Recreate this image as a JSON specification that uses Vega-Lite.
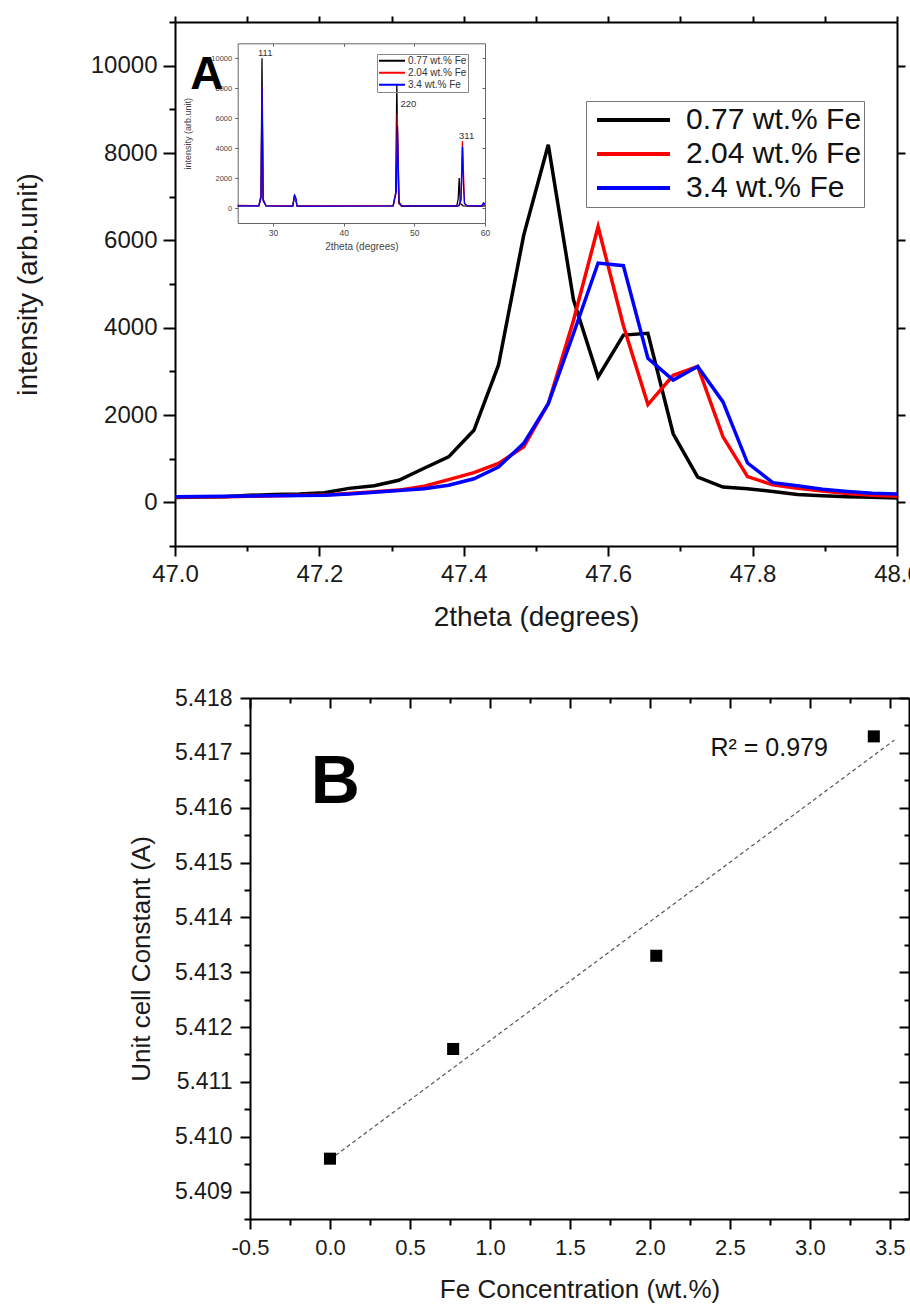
{
  "$schema": "https://vega.github.io/schema/vega-lite/v6.json",
  "autosize": "none",
  "padding": {"left": 175, "top": 22, "right": 735, "bottom": 1283},
  "config": {
    "font": "Liberation Sans",
    "view": {"stroke": null},
    "axis": {"grid": false, "labelFlush": false, "labelOverlap": false, "domainColor": "#000", "tickColor": "#000", "labelColor": "#1a1a1a", "titleColor": "#1a1a1a", "titleFontWeight": "normal", "labelFont": "Liberation Sans", "titleFont": "Liberation Sans"},
    "legend": {"labelFont": "Liberation Sans", "labelLimit": 400},
    "text": {"font": "Liberation Sans"}
  },
  "datasets": {
    "main": [
      {"t":47.000,"I":110,"s":"0.77 wt.% Fe"},{"t":47.034,"I":120,"s":"0.77 wt.% Fe"},{"t":47.069,"I":130,"s":"0.77 wt.% Fe"},{"t":47.103,"I":160,"s":"0.77 wt.% Fe"},{"t":47.138,"I":180,"s":"0.77 wt.% Fe"},{"t":47.172,"I":190,"s":"0.77 wt.% Fe"},{"t":47.207,"I":220,"s":"0.77 wt.% Fe"},{"t":47.241,"I":320,"s":"0.77 wt.% Fe"},{"t":47.276,"I":380,"s":"0.77 wt.% Fe"},{"t":47.310,"I":505,"s":"0.77 wt.% Fe"},{"t":47.345,"I":780,"s":"0.77 wt.% Fe"},{"t":47.379,"I":1040,"s":"0.77 wt.% Fe"},{"t":47.414,"I":1650,"s":"0.77 wt.% Fe"},{"t":47.448,"I":3140,"s":"0.77 wt.% Fe"},{"t":47.483,"I":6120,"s":"0.77 wt.% Fe"},{"t":47.517,"I":8190,"s":"0.77 wt.% Fe"},{"t":47.552,"I":4630,"s":"0.77 wt.% Fe"},{"t":47.586,"I":2870,"s":"0.77 wt.% Fe"},{"t":47.621,"I":3830,"s":"0.77 wt.% Fe"},{"t":47.655,"I":3870,"s":"0.77 wt.% Fe"},{"t":47.690,"I":1570,"s":"0.77 wt.% Fe"},{"t":47.724,"I":580,"s":"0.77 wt.% Fe"},{"t":47.759,"I":350,"s":"0.77 wt.% Fe"},{"t":47.793,"I":310,"s":"0.77 wt.% Fe"},{"t":47.828,"I":250,"s":"0.77 wt.% Fe"},{"t":47.862,"I":180,"s":"0.77 wt.% Fe"},{"t":47.897,"I":150,"s":"0.77 wt.% Fe"},{"t":47.931,"I":130,"s":"0.77 wt.% Fe"},{"t":47.966,"I":115,"s":"0.77 wt.% Fe"},{"t":48.000,"I":100,"s":"0.77 wt.% Fe"},
      {"t":47.000,"I":120,"s":"2.04 wt.% Fe"},{"t":47.034,"I":125,"s":"2.04 wt.% Fe"},{"t":47.069,"I":130,"s":"2.04 wt.% Fe"},{"t":47.103,"I":140,"s":"2.04 wt.% Fe"},{"t":47.138,"I":150,"s":"2.04 wt.% Fe"},{"t":47.172,"I":160,"s":"2.04 wt.% Fe"},{"t":47.207,"I":170,"s":"2.04 wt.% Fe"},{"t":47.241,"I":200,"s":"2.04 wt.% Fe"},{"t":47.276,"I":240,"s":"2.04 wt.% Fe"},{"t":47.310,"I":280,"s":"2.04 wt.% Fe"},{"t":47.345,"I":370,"s":"2.04 wt.% Fe"},{"t":47.379,"I":520,"s":"2.04 wt.% Fe"},{"t":47.414,"I":680,"s":"2.04 wt.% Fe"},{"t":47.448,"I":890,"s":"2.04 wt.% Fe"},{"t":47.483,"I":1270,"s":"2.04 wt.% Fe"},{"t":47.517,"I":2260,"s":"2.04 wt.% Fe"},{"t":47.552,"I":4170,"s":"2.04 wt.% Fe"},{"t":47.586,"I":6310,"s":"2.04 wt.% Fe"},{"t":47.621,"I":4050,"s":"2.04 wt.% Fe"},{"t":47.655,"I":2240,"s":"2.04 wt.% Fe"},{"t":47.690,"I":2910,"s":"2.04 wt.% Fe"},{"t":47.724,"I":3110,"s":"2.04 wt.% Fe"},{"t":47.759,"I":1500,"s":"2.04 wt.% Fe"},{"t":47.793,"I":590,"s":"2.04 wt.% Fe"},{"t":47.828,"I":400,"s":"2.04 wt.% Fe"},{"t":47.862,"I":320,"s":"2.04 wt.% Fe"},{"t":47.897,"I":260,"s":"2.04 wt.% Fe"},{"t":47.931,"I":200,"s":"2.04 wt.% Fe"},{"t":47.966,"I":160,"s":"2.04 wt.% Fe"},{"t":48.000,"I":140,"s":"2.04 wt.% Fe"},
      {"t":47.000,"I":130,"s":"3.4 wt.% Fe"},{"t":47.034,"I":135,"s":"3.4 wt.% Fe"},{"t":47.069,"I":140,"s":"3.4 wt.% Fe"},{"t":47.103,"I":145,"s":"3.4 wt.% Fe"},{"t":47.138,"I":150,"s":"3.4 wt.% Fe"},{"t":47.172,"I":155,"s":"3.4 wt.% Fe"},{"t":47.207,"I":165,"s":"3.4 wt.% Fe"},{"t":47.241,"I":190,"s":"3.4 wt.% Fe"},{"t":47.276,"I":230,"s":"3.4 wt.% Fe"},{"t":47.310,"I":270,"s":"3.4 wt.% Fe"},{"t":47.345,"I":310,"s":"3.4 wt.% Fe"},{"t":47.379,"I":390,"s":"3.4 wt.% Fe"},{"t":47.414,"I":540,"s":"3.4 wt.% Fe"},{"t":47.448,"I":810,"s":"3.4 wt.% Fe"},{"t":47.483,"I":1350,"s":"3.4 wt.% Fe"},{"t":47.517,"I":2260,"s":"3.4 wt.% Fe"},{"t":47.552,"I":3870,"s":"3.4 wt.% Fe"},{"t":47.586,"I":5480,"s":"3.4 wt.% Fe"},{"t":47.621,"I":5420,"s":"3.4 wt.% Fe"},{"t":47.655,"I":3300,"s":"3.4 wt.% Fe"},{"t":47.690,"I":2800,"s":"3.4 wt.% Fe"},{"t":47.724,"I":3110,"s":"3.4 wt.% Fe"},{"t":47.759,"I":2300,"s":"3.4 wt.% Fe"},{"t":47.793,"I":900,"s":"3.4 wt.% Fe"},{"t":47.828,"I":450,"s":"3.4 wt.% Fe"},{"t":47.862,"I":380,"s":"3.4 wt.% Fe"},{"t":47.897,"I":300,"s":"3.4 wt.% Fe"},{"t":47.931,"I":250,"s":"3.4 wt.% Fe"},{"t":47.966,"I":210,"s":"3.4 wt.% Fe"},{"t":48.000,"I":190,"s":"3.4 wt.% Fe"}
    ],
    "inset": [
      {"t":25,"I":150,"s":"0.77 wt.% Fe"},{"t":28.0,"I":150,"s":"0.77 wt.% Fe"},{"t":28.3,"I":900,"s":"0.77 wt.% Fe"},{"t":28.44,"I":10000,"s":"0.77 wt.% Fe"},{"t":28.6,"I":600,"s":"0.77 wt.% Fe"},{"t":29.0,"I":150,"s":"0.77 wt.% Fe"},{"t":32.8,"I":130,"s":"0.77 wt.% Fe"},{"t":33.0,"I":750,"s":"0.77 wt.% Fe"},{"t":33.2,"I":600,"s":"0.77 wt.% Fe"},{"t":33.4,"I":130,"s":"0.77 wt.% Fe"},{"t":47.0,"I":150,"s":"0.77 wt.% Fe"},{"t":47.35,"I":1000,"s":"0.77 wt.% Fe"},{"t":47.52,"I":8200,"s":"0.77 wt.% Fe"},{"t":47.65,"I":3800,"s":"0.77 wt.% Fe"},{"t":47.8,"I":300,"s":"0.77 wt.% Fe"},{"t":48.2,"I":120,"s":"0.77 wt.% Fe"},{"t":56.0,"I":120,"s":"0.77 wt.% Fe"},{"t":56.2,"I":600,"s":"0.77 wt.% Fe"},{"t":56.35,"I":2000,"s":"0.77 wt.% Fe"},{"t":56.5,"I":300,"s":"0.77 wt.% Fe"},{"t":56.9,"I":150,"s":"0.77 wt.% Fe"},{"t":59.5,"I":120,"s":"0.77 wt.% Fe"},{"t":59.8,"I":150,"s":"0.77 wt.% Fe"},{"t":60,"I":150,"s":"0.77 wt.% Fe"},
      {"t":25,"I":180,"s":"2.04 wt.% Fe"},{"t":28.0,"I":160,"s":"2.04 wt.% Fe"},{"t":28.3,"I":700,"s":"2.04 wt.% Fe"},{"t":28.44,"I":8100,"s":"2.04 wt.% Fe"},{"t":28.6,"I":500,"s":"2.04 wt.% Fe"},{"t":29.0,"I":160,"s":"2.04 wt.% Fe"},{"t":32.8,"I":140,"s":"2.04 wt.% Fe"},{"t":33.05,"I":900,"s":"2.04 wt.% Fe"},{"t":33.25,"I":500,"s":"2.04 wt.% Fe"},{"t":33.4,"I":140,"s":"2.04 wt.% Fe"},{"t":47.0,"I":160,"s":"2.04 wt.% Fe"},{"t":47.45,"I":1200,"s":"2.04 wt.% Fe"},{"t":47.59,"I":6300,"s":"2.04 wt.% Fe"},{"t":47.7,"I":3000,"s":"2.04 wt.% Fe"},{"t":47.85,"I":300,"s":"2.04 wt.% Fe"},{"t":48.2,"I":140,"s":"2.04 wt.% Fe"},{"t":56.3,"I":150,"s":"2.04 wt.% Fe"},{"t":56.6,"I":500,"s":"2.04 wt.% Fe"},{"t":56.8,"I":4470,"s":"2.04 wt.% Fe"},{"t":56.95,"I":2400,"s":"2.04 wt.% Fe"},{"t":57.1,"I":300,"s":"2.04 wt.% Fe"},{"t":57.5,"I":150,"s":"2.04 wt.% Fe"},{"t":59.5,"I":150,"s":"2.04 wt.% Fe"},{"t":59.8,"I":250,"s":"2.04 wt.% Fe"},{"t":60,"I":200,"s":"2.04 wt.% Fe"},
      {"t":25,"I":140,"s":"3.4 wt.% Fe"},{"t":28.0,"I":140,"s":"3.4 wt.% Fe"},{"t":28.3,"I":700,"s":"3.4 wt.% Fe"},{"t":28.44,"I":8050,"s":"3.4 wt.% Fe"},{"t":28.6,"I":500,"s":"3.4 wt.% Fe"},{"t":29.0,"I":140,"s":"3.4 wt.% Fe"},{"t":32.8,"I":130,"s":"3.4 wt.% Fe"},{"t":33.05,"I":850,"s":"3.4 wt.% Fe"},{"t":33.25,"I":650,"s":"3.4 wt.% Fe"},{"t":33.4,"I":130,"s":"3.4 wt.% Fe"},{"t":47.0,"I":140,"s":"3.4 wt.% Fe"},{"t":47.45,"I":1100,"s":"3.4 wt.% Fe"},{"t":47.6,"I":5500,"s":"3.4 wt.% Fe"},{"t":47.72,"I":3100,"s":"3.4 wt.% Fe"},{"t":47.85,"I":400,"s":"3.4 wt.% Fe"},{"t":48.2,"I":140,"s":"3.4 wt.% Fe"},{"t":56.3,"I":140,"s":"3.4 wt.% Fe"},{"t":56.6,"I":600,"s":"3.4 wt.% Fe"},{"t":56.82,"I":4100,"s":"3.4 wt.% Fe"},{"t":56.95,"I":1500,"s":"3.4 wt.% Fe"},{"t":57.1,"I":300,"s":"3.4 wt.% Fe"},{"t":57.5,"I":140,"s":"3.4 wt.% Fe"},{"t":59.5,"I":140,"s":"3.4 wt.% Fe"},{"t":59.8,"I":350,"s":"3.4 wt.% Fe"},{"t":60,"I":250,"s":"3.4 wt.% Fe"}
    ],
    "insetLabels": [
      {"t":28.9,"I":10336,"label":"111"},
      {"t":49.17,"I":6933,"label":"220"},
      {"t":57.4,"I":4805,"label":"311"}
    ],
    "annA": [{"t":47.044,"I":9794,"label":"A"}],
    "lat": [
      {"c":0,"a":5.4096},
      {"c":0.77,"a":5.4116},
      {"c":2.04,"a":5.4133},
      {"c":3.4,"a":5.4173}
    ],
    "annB": [{"c":0.033,"a":5.41645,"label":"B"}],
    "annR": [{"c":2.746,"a":5.41709,"label":"R² = 0.979"}]
  },
  "bounds": "flush",
  "spacing": 152,
  "vconcat": [
    {
      "width": 722,
      "height": 524,
      "layer": [
        {
          "data": {"name": "main"},
          "layer": [
            {
              "mark": {"type": "line", "strokeWidth": 3.5},
              "encoding": {
                "x": {"field": "t", "type": "quantitative", "scale": {"domain": [47, 48], "nice": false, "zero": false},
                  "axis": {"orient": "bottom", "values": [47, 47.2, 47.4, 47.6, 47.8, 48], "format": ".1f", "title": "2theta (degrees)", "tickSize": 10, "tickWidth": 2, "domainWidth": 2, "labelFontSize": 24, "labelPadding": 6, "titleFontSize": 28, "titlePadding": 17}},
                "y": {"field": "I", "type": "quantitative", "scale": {"domain": [-1000, 11000], "nice": false, "zero": false},
                  "axis": {"orient": "left", "values": [0, 2000, 4000, 6000, 8000, 10000], "format": "d", "title": "intensity (arb.unit)", "tickSize": 12, "tickWidth": 2, "domainWidth": 2, "labelFontSize": 24, "labelPadding": 6, "titleFontSize": 28, "titlePadding": 48}},
                "color": {"field": "s", "type": "nominal",
                  "scale": {"domain": ["0.77 wt.% Fe", "2.04 wt.% Fe", "3.4 wt.% Fe"], "range": ["#000000", "#ff0000", "#0000ff"]},
                  "legend": {"orient": "none", "legendX": 411, "legendY": 79, "title": null, "strokeColor": "#777", "padding": 2, "symbolType": "stroke", "symbolSize": 5329, "symbolStrokeWidth": 4, "symbolOffset": 7, "clipHeight": 34, "rowPadding": 0, "labelFontSize": 30, "labelOffset": 14, "labelColor": "#111"}}
              }
            },
            {
              "mark": {"type": "point", "opacity": 0},
              "encoding": {
                "x": {"field": "t", "type": "quantitative", "scale": {"domain": [47, 48], "nice": false, "zero": false},
                  "axis": {"orient": "bottom", "values": [47.1, 47.3, 47.5, 47.7, 47.9], "labels": false, "title": null, "domain": false, "tickSize": 5, "tickWidth": 2}},
                "y": {"field": "I", "type": "quantitative", "scale": {"domain": [-1000, 11000], "nice": false, "zero": false},
                  "axis": {"orient": "left", "values": [-1000, 1000, 3000, 5000, 7000, 9000, 11000], "labels": false, "title": null, "domain": false, "tickSize": 6, "tickWidth": 2}}
              }
            },
            {
              "mark": {"type": "point", "opacity": 0},
              "encoding": {
                "x": {"field": "t", "type": "quantitative", "scale": {"domain": [47, 48], "nice": false, "zero": false},
                  "axis": {"orient": "top", "values": [47, 47.1, 47.2, 47.3, 47.4, 47.5, 47.6, 47.7, 47.8, 47.9, 48], "labels": false, "title": null, "domainWidth": 2, "tickSize": 6, "tickWidth": 2}},
                "y": {"field": "I", "type": "quantitative", "scale": {"domain": [-1000, 11000], "nice": false, "zero": false},
                  "axis": {"orient": "right", "values": [0, 2000, 4000, 6000, 8000, 10000], "labels": false, "title": null, "domainWidth": 2, "tickSize": 8, "tickWidth": 2}}
              }
            },
            {
              "data": {"name": "annA"},
              "mark": {"type": "text", "fontSize": 46, "fontWeight": "bold", "color": "#000"},
              "encoding": {
                "x": {"field": "t", "type": "quantitative", "axis": null},
                "y": {"field": "I", "type": "quantitative", "axis": null},
                "text": {"field": "label"}
              }
            }
          ],
          "resolve": {"axis": {"x": "independent", "y": "independent"}}
        },
        {
          "data": {"name": "inset"},
          "layer": [
            {
              "mark": {"type": "line", "strokeWidth": 1.3},
              "encoding": {
                "x": {"field": "t", "type": "quantitative", "scale": {"domain": [25, 60], "range": [62.7, 310], "nice": false, "zero": false},
                  "axis": {"orient": "bottom", "offset": -323, "values": [30, 40, 50, 60], "title": "2theta (degrees)", "tickSize": 3, "tickWidth": 1, "domainWidth": 1, "domainColor": "#666", "tickColor": "#666", "labelFontSize": 8.5, "labelPadding": 2, "labelColor": "#444", "titleFontSize": 10, "titlePadding": 5, "titleColor": "#444"}},
                "y": {"field": "I", "type": "quantitative", "scale": {"domain": [-1000, 11000], "range": [201, 21.3], "nice": false, "zero": false},
                  "axis": {"orient": "left", "offset": -62.7, "values": [0, 2000, 4000, 6000, 8000, 10000], "format": "d", "title": "intensity (arb.unit)", "tickSize": 3, "tickWidth": 1, "domainWidth": 1, "domainColor": "#666", "tickColor": "#666", "labelFontSize": 7.5, "labelPadding": 3, "labelColor": "#444", "titleFontSize": 9, "titlePadding": 18, "titleColor": "#444"}},
                "color": {"field": "s", "type": "nominal",
                  "scale": {"domain": ["0.77 wt.% Fe", "2.04 wt.% Fe", "3.4 wt.% Fe"], "range": ["#000000", "#ff0000", "#0000ff"]},
                  "legend": {"orient": "none", "legendX": 202, "legendY": 32, "title": null, "strokeColor": "#888", "padding": 1, "symbolType": "stroke", "symbolSize": 676, "symbolStrokeWidth": 2, "clipHeight": 11.7, "rowPadding": 0, "labelFontSize": 10, "labelOffset": 2, "labelColor": "#333"}}
              }
            },
            {
              "mark": {"type": "point", "opacity": 0},
              "encoding": {
                "x": {"field": "t", "type": "quantitative", "scale": {"domain": [25, 60], "range": [62.7, 310], "nice": false, "zero": false},
                  "axis": {"orient": "top", "offset": -21.3, "values": [30, 40, 50, 60], "labels": false, "title": null, "tickSize": -3, "tickWidth": 1, "domainWidth": 1, "domainColor": "#666", "tickColor": "#666"}},
                "y": {"field": "I", "type": "quantitative", "scale": {"domain": [-1000, 11000], "range": [201, 21.3], "nice": false, "zero": false},
                  "axis": {"orient": "right", "offset": -412, "values": [0, 2000, 4000, 6000, 8000, 10000], "labels": false, "title": null, "tickSize": -3, "tickWidth": 1, "domainWidth": 1, "domainColor": "#666", "tickColor": "#666"}}
              }
            },
            {
              "data": {"name": "insetLabels"},
              "mark": {"type": "text", "fontSize": 9.5, "color": "#333"},
              "encoding": {
                "x": {"field": "t", "type": "quantitative", "scale": {"domain": [25, 60], "range": [62.7, 310], "nice": false, "zero": false}, "axis": null},
                "y": {"field": "I", "type": "quantitative", "scale": {"domain": [-1000, 11000], "range": [201, 21.3], "nice": false, "zero": false}, "axis": null},
                "text": {"field": "label"}
              }
            }
          ],
          "resolve": {"axis": {"x": "independent", "y": "independent"}}
        }
      ],
      "resolve": {"scale": {"x": "independent", "y": "independent", "color": "independent"}}
    },
    {
      "bounds": "flush",
      "spacing": 0,
      "hconcat": [
        {
          "width": 75,
          "height": 10,
          "data": {"values": [{"z": 0}]},
          "mark": {"type": "point", "opacity": 0},
          "encoding": {}
        },
        {
          "width": 659,
          "height": 521,
          "data": {"name": "lat"},
          "layer": [
            {
              "transform": [{"regression": "a", "on": "c", "extent": [0, 3.53]}],
              "mark": {"type": "line", "strokeDash": [4, 3], "strokeWidth": 1.2, "color": "#555"},
              "encoding": {
                "x": {"field": "c", "type": "quantitative", "scale": {"domain": [-0.5, 3.62], "nice": false, "zero": false},
                  "axis": {"orient": "bottom", "values": [-0.25, 0.25, 0.75, 1.25, 1.75, 2.25, 2.75, 3.25], "labels": false, "title": null, "domain": false, "tickSize": 6, "tickWidth": 2}},
                "y": {"field": "a", "type": "quantitative", "scale": {"domain": [5.4085, 5.418], "nice": false, "zero": false},
                  "axis": {"orient": "left", "values": [5.4085, 5.4095, 5.4105, 5.4115, 5.4125, 5.4135, 5.4145, 5.4155, 5.4165, 5.4175], "labels": false, "title": null, "domain": false, "tickSize": 6, "tickWidth": 2}}
              }
            },
            {
              "mark": {"type": "point", "shape": "square", "filled": true, "color": "#000", "size": 145, "opacity": 1},
              "encoding": {
                "x": {"field": "c", "type": "quantitative", "scale": {"domain": [-0.5, 3.62], "nice": false, "zero": false},
                  "axis": {"orient": "bottom", "values": [-0.5, 0, 0.5, 1, 1.5, 2, 2.5, 3, 3.5], "format": ".1f", "labelExpr": "replace(datum.label, '−', '-')", "title": "Fe Concentration (wt.%)", "tickSize": 10, "tickWidth": 2, "domainWidth": 2, "labelFontSize": 22, "labelPadding": 8, "titleFontSize": 26, "titlePadding": 18}},
                "y": {"field": "a", "type": "quantitative", "scale": {"domain": [5.4085, 5.418], "nice": false, "zero": false},
                  "axis": {"orient": "left", "values": [5.409, 5.41, 5.411, 5.412, 5.413, 5.414, 5.415, 5.416, 5.417, 5.418], "format": ".3f", "title": "Unit cell Constant (A)", "tickSize": 10, "tickWidth": 2, "domainWidth": 2, "labelFontSize": 23, "labelPadding": 8, "titleFontSize": 26, "titlePadding": 20}}
              }
            },
            {
              "mark": {"type": "point", "opacity": 0},
              "encoding": {
                "x": {"field": "c", "type": "quantitative", "scale": {"domain": [-0.5, 3.62], "nice": false, "zero": false},
                  "axis": {"orient": "top", "values": [-0.5, 0, 0.5, 1, 1.5, 2, 2.5, 3, 3.5], "labels": false, "title": null, "tickSize": -10, "tickWidth": 2, "domainWidth": 2}},
                "y": {"field": "a", "type": "quantitative", "scale": {"domain": [5.4085, 5.418], "nice": false, "zero": false},
                  "axis": {"orient": "right", "values": [5.409, 5.41, 5.411, 5.412, 5.413, 5.414, 5.415, 5.416, 5.417, 5.418], "labels": false, "title": null, "tickSize": -10, "tickWidth": 2, "domainWidth": 2}}
              }
            },
            {
              "mark": {"type": "point", "opacity": 0},
              "encoding": {
                "x": {"field": "c", "type": "quantitative", "scale": {"domain": [-0.5, 3.62], "nice": false, "zero": false},
                  "axis": {"orient": "top", "values": [-0.25, 0.25, 0.75, 1.25, 1.75, 2.25, 2.75, 3.25], "labels": false, "title": null, "domain": false, "tickSize": -5, "tickWidth": 2}},
                "y": {"field": "a", "type": "quantitative", "scale": {"domain": [5.4085, 5.418], "nice": false, "zero": false},
                  "axis": {"orient": "right", "values": [5.4085, 5.4095, 5.4105, 5.4115, 5.4125, 5.4135, 5.4145, 5.4155, 5.4165, 5.4175], "labels": false, "title": null, "domain": false, "tickSize": -5, "tickWidth": 2}}
              }
            },
            {
              "data": {"name": "annB"},
              "mark": {"type": "text", "fontSize": 68, "fontWeight": "bold", "color": "#000"},
              "encoding": {
                "x": {"field": "c", "type": "quantitative", "axis": null},
                "y": {"field": "a", "type": "quantitative", "axis": null},
                "text": {"field": "label"}
              }
            },
            {
              "data": {"name": "annR"},
              "mark": {"type": "text", "fontSize": 25, "color": "#111"},
              "encoding": {
                "x": {"field": "c", "type": "quantitative", "axis": null},
                "y": {"field": "a", "type": "quantitative", "axis": null},
                "text": {"field": "label"}
              }
            }
          ],
          "resolve": {"axis": {"x": "independent", "y": "independent"}}
        }
      ]
    }
  ]
}
